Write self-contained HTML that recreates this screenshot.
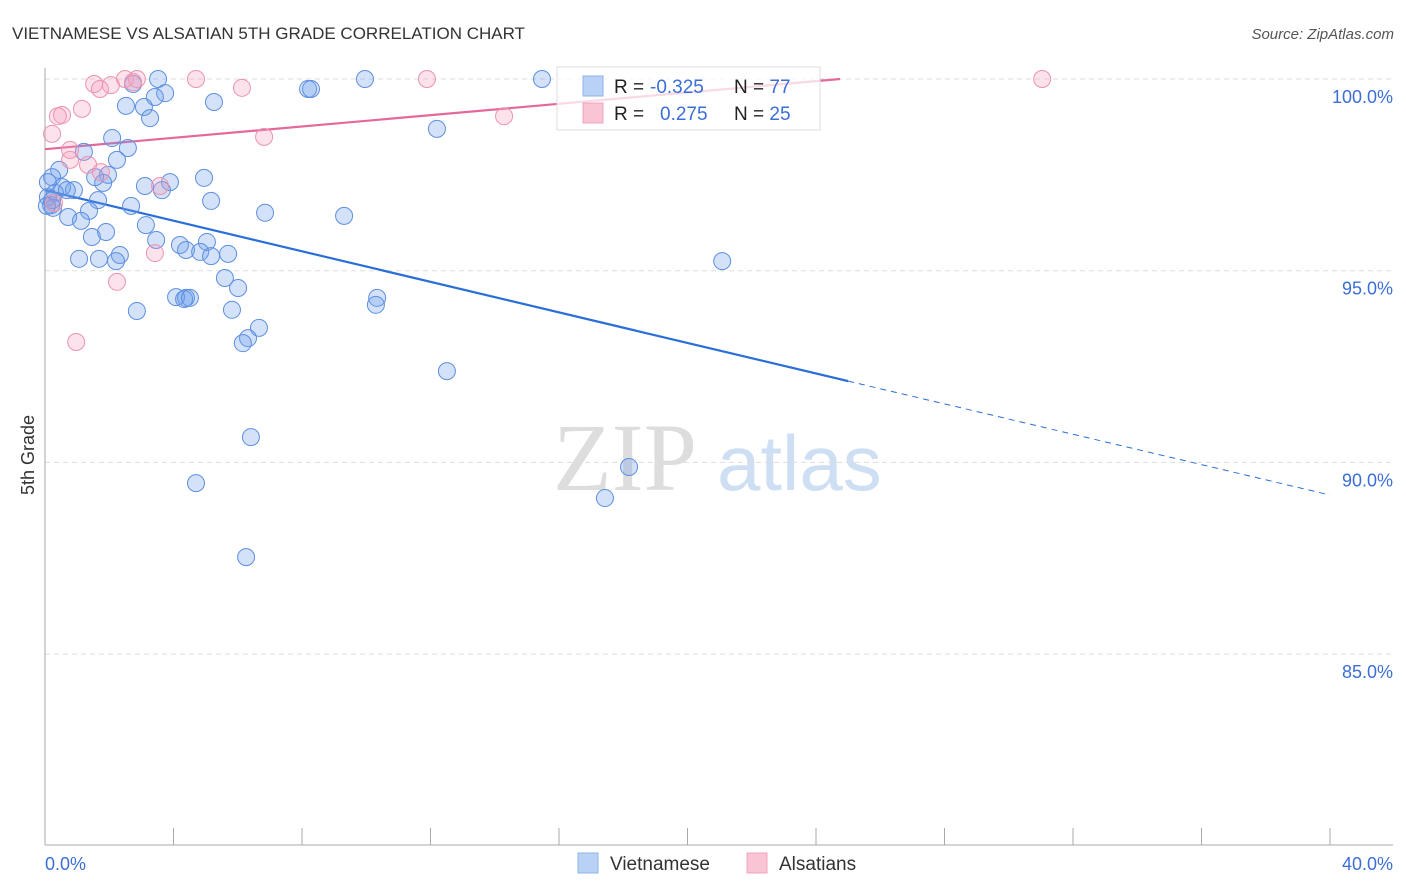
<!DOCTYPE html>
<html><head><meta charset="utf-8"><style>
body{margin:0;background:#fff;font-family:"Liberation Sans",sans-serif;}
svg{display:block}
</style></head><body>
<svg width="1406" height="892" font-family="Liberation Sans, sans-serif">
<text x="12" y="39" font-size="17" fill="#333">VIETNAMESE VS ALSATIAN 5TH GRADE CORRELATION CHART</text>
<text x="1394" y="39" font-size="15" fill="#555" font-style="italic" text-anchor="end">Source: ZipAtlas.com</text>
<text transform="translate(34,455) rotate(-90)" font-size="18" fill="#333" text-anchor="middle">5th Grade</text>
<g>
<text x="553" y="490" font-family="Liberation Serif, serif" font-size="96" fill="#ddd">ZIP</text>
<text x="717" y="490" font-size="78" fill="#cfdff3">atlas</text>
</g>
<g id="grid"></g>
<g id="axes"></g>
<g id="trend"></g>
<g id="pts"></g>
<g>
<rect x="557" y="67" width="263" height="63" fill="rgba(255,255,255,0.75)" stroke="#ddd"/>
<rect x="583" y="76" width="20" height="20" fill="#b9d1f5" stroke="#8fb2eb"/>
<rect x="583" y="103" width="20" height="20" fill="#f9c4d4" stroke="#f0a5bd"/>
<text x="614" y="93" font-size="19" fill="#222">R = <tspan fill="#3b6fd6" x="650">-0.325</tspan></text>
<text x="734" y="93" font-size="19" fill="#222">N = <tspan fill="#3b6fd6">77</tspan></text>
<text x="614" y="120" font-size="19" fill="#222">R = <tspan fill="#3b6fd6" x="660">0.275</tspan></text>
<text x="734" y="120" font-size="19" fill="#222">N = <tspan fill="#3b6fd6">25</tspan></text>
</g>
<g>
<rect x="578" y="853" width="20" height="20" fill="#b9d1f5" stroke="#8fb2eb"/>
<text x="610" y="870" font-size="19" fill="#333">Vietnamese</text>
<rect x="747" y="853" width="20" height="20" fill="#f9c4d4" stroke="#f0a5bd"/>
<text x="779" y="870" font-size="19" fill="#333">Alsatians</text>
</g>
</svg>
<script>
const yTicks=[100,95,90,85];
const xLabels=["0.0%","40.0%"];
const blueX=[3.52,9.96,15.47,2.74,8.19,8.28,3.74,3.42,2.52,3.08,5.26,3.27,12.20,2.09,2.58,1.21,2.24,0.44,0.22,1.96,1.56,3.89,4.95,3.11,1.81,0.53,0.90,3.64,0.31,0.68,0.09,1.65,5.17,0.19,2.68,6.85,9.31,0.25,1.37,0.72,1.12,3.14,1.90,1.46,3.46,4.20,5.04,4.39,4.83,5.70,5.17,2.33,1.06,1.68,2.21,21.08,5.60,6.01,4.08,4.39,4.33,4.51,10.34,10.30,2.86,5.82,6.66,6.32,6.16,12.51,6.41,18.18,4.70,17.43,6.26,0.09,0.22,0.06];
const blueY=[100,100,100,99.87,99.74,99.74,99.63,99.53,99.30,99.27,99.40,98.98,98.70,98.46,98.20,98.10,97.89,97.63,97.44,97.50,97.44,97.31,97.42,97.21,97.29,97.18,97.10,97.10,97.03,97.10,96.92,96.84,96.82,96.71,96.69,96.51,96.43,96.64,96.56,96.40,96.30,96.19,96.01,95.88,95.80,95.67,95.75,95.54,95.49,95.44,95.38,95.41,95.31,95.31,95.25,95.25,94.81,94.55,94.31,94.29,94.26,94.29,94.29,94.11,93.95,93.98,93.51,93.24,93.11,92.38,90.66,89.88,89.46,89.07,87.53,97.31,96.84,96.69];
const pinkX=[1.53,2.49,2.86,4.70,11.89,31.04,2.05,1.71,6.13,2.74,0.53,0.40,1.15,0.22,14.29,6.82,0.78,0.78,1.34,1.74,3.58,3.42,2.24,0.97,0.28];
const pinkY=[99.87,100,100,100,100,100,99.84,99.74,99.77,99.92,99.06,99.03,99.22,98.57,99.03,98.49,97.89,98.15,97.76,97.57,97.21,95.46,94.71,93.14,96.77];
const blueTrend=[97.10,92.12,89.15]; // at x=0, 25, 40
const pinkTrend=[98.17,100.0]; // at x=0, 24.75
const NS="http://www.w3.org/2000/svg";
const sx=v=>45+v*(1285/40);
const sy=v=>79+(100-v)*(191.7/5);
function mk(tag,attrs,parent){const e=document.createElementNS(NS,tag);for(const k in attrs)e.setAttribute(k,attrs[k]);parent.appendChild(e);return e;}
const grid=document.getElementById('grid'),axes=document.getElementById('axes');
yTicks.forEach(t=>{
 const l=mk('line',{x1:45,x2:1393,y1:sy(t),y2:sy(t),stroke:'#ddd','stroke-dasharray':'5,4'},grid);
 
 
 const tx=mk('text',{x:1393,y:sy(t)+24,'font-size':18,fill:'#3b6fd6','text-anchor':'end'},axes);
 tx.textContent=t.toFixed(1)+'%';
 
 
});
const ya=mk('line',{x1:45,x2:45,y1:68,y2:845,stroke:'#aaa'},axes);


const xa=mk('line',{x1:45,x2:1393,y1:845,y2:845,stroke:'#aaa'},axes);


for(let i=0;i<=40;i+=4){
 const t=mk('line',{x1:sx(i),x2:sx(i),y1:828,y2:845,stroke:'#aaa'},axes);
 
 
}
const xl0=mk('text',{x:45,y:870,'font-size':18,fill:'#3b6fd6'},axes);xl0.textContent=xLabels[0];


const xl1=mk('text',{x:1393,y:870,'font-size':18,fill:'#3b6fd6','text-anchor':'end'},axes);xl1.textContent=xLabels[1];


const pts=document.getElementById('pts');
blueX.forEach((x,i)=>{const c=mk('circle',{cx:sx(x),cy:sy(blueY[i]),r:8.5,fill:'rgba(110,160,235,0.3)',stroke:'#5d8fe0','stroke-width':1},pts);
 
 });
pinkX.forEach((x,i)=>{const c=mk('circle',{cx:sx(x),cy:sy(pinkY[i]),r:8.5,fill:'rgba(245,160,190,0.3)',stroke:'#ec93b0','stroke-width':1},pts);
 
 });
const tr=document.getElementById('trend');
const b1=mk('line',{x1:sx(0),y1:sy(blueTrend[0]),x2:sx(25),y2:sy(blueTrend[1]),stroke:'#2a6fd8','stroke-width':2.2},tr);


const b2=mk('line',{x1:sx(25),y1:sy(blueTrend[1]),x2:sx(40),y2:sy(blueTrend[2]),stroke:'#2a6fd8','stroke-width':1,'stroke-dasharray':'6,5'},tr);


const p1=mk('line',{x1:sx(0),y1:sy(pinkTrend[0]),x2:sx(24.75),y2:sy(pinkTrend[1]),stroke:'#e5689a','stroke-width':2.2},tr);


</script>
</body></html>
